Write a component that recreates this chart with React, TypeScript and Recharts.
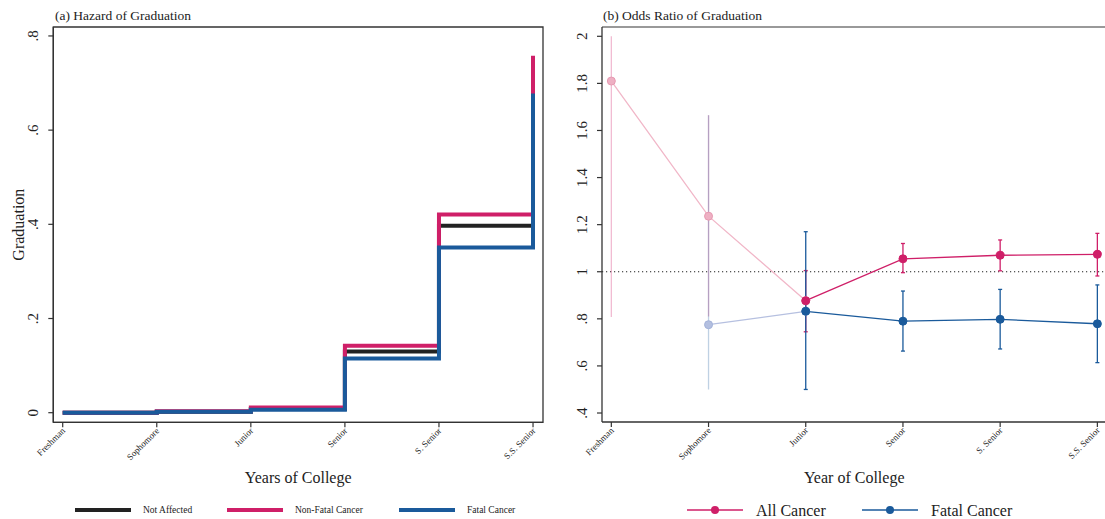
import React from 'react';
import {
  ComposedChart,
  Line,
  XAxis,
  YAxis,
  ErrorBar,
  ReferenceLine,
  ReferenceArea,
} from 'recharts';

// ---------- data ----------
const years = ['Freshman', 'Sophomore', 'Junior', 'Senior', 'S. Senior', 'S.S. Senior'];

// (a) hazard of graduation
const hazardNotAffected = [0, 0.002, 0.008, 0.13, 0.397, 0.72];
const hazardNonFatal = [0, 0.003, 0.011, 0.142, 0.421, 0.758];
const hazardFatal = [0, 0.002, 0.006, 0.115, 0.351, 0.678];
const hazardTicks = [0, 0.2, 0.4, 0.6, 0.8];

// (b) odds ratio of graduation
const allCancerOR = [1.81, 1.236, 0.877, 1.055, 1.07, 1.074];
const allCancerLo = [0.808, 0.81, 0.745, 0.996, 1.004, 0.982];
const allCancerHi = [2.0, 1.665, 1.005, 1.12, 1.135, 1.163];
const fatalOR = [null, 0.775, 0.832, 0.79, 0.798, 0.779];
const fatalLo = [null, 0.5, 0.5, 0.663, 0.672, 0.614];
const fatalHi = [null, 1.665, 1.17, 0.918, 0.925, 0.944];
const oddsTicks = [0.4, 0.6, 0.8, 1, 1.2, 1.4, 1.6, 1.8, 2];
const firstSolidIndex = 2; // estimates before Junior are drawn faded

// ---------- styles ----------
const SERIF = '"Liberation Serif", "Times New Roman", Times, serif';
const PINK = '#cf1f68';
const BLUE = '#1a5a9b';
const BLACK = '#222222';
const TXT = '#222222';
const AXIS = '#333333';

const hazardSeries = [
  { key: 'na', name: 'Not Affected', color: BLACK, values: hazardNotAffected, width: 4 },
  { key: 'nf', name: 'Non-Fatal Cancer', color: PINK, values: hazardNonFatal, width: 4 },
  { key: 'f', name: 'Fatal Cancer', color: BLUE, values: hazardFatal, width: 4 },
];

const hazardData = years.map((_, i) => {
  const row: any = { x: i };
  hazardSeries.forEach((s) => (row[s.key] = s.values[i]));
  return row;
});

function buildOdds(or: (number | null)[], lo: (number | null)[], hi: (number | null)[], faded: boolean) {
  const rows: any[] = [];
  or.forEach((v, i) => {
    if (v == null) return;
    if (faded && i > firstSolidIndex) return;
    if (!faded && i < firstSolidIndex) return;
    rows.push({
      x: i,
      y: v,
      lo: lo[i],
      hi: hi[i],
      showCI: faded ? i < firstSolidIndex : true,
    });
  });
  return rows;
}

const allFaded = buildOdds(allCancerOR, allCancerLo, allCancerHi, true);
const allSolid = buildOdds(allCancerOR, allCancerLo, allCancerHi, false);
const fatalFaded = buildOdds(fatalOR, fatalLo, fatalHi, true);
const fatalSolid = buildOdds(fatalOR, fatalLo, fatalHi, false);

const ciKey = (d: any) => (d.showCI ? [d.y - d.lo, d.hi - d.y] : null);

const fmtY = (v: number) => {
  if (v === 0) return '0';
  const s = String(Math.round(v * 100) / 100);
  return s.startsWith('0.') ? s.slice(1) : s;
};

const XTick = (props: any) => {
  const { x, y, payload } = props;
  return (
    <text
      transform={`translate(${x + 3},${y + 2}) rotate(-45)`}
      textAnchor="end"
      fontSize={9}
      fontFamily={SERIF}
      fill={TXT}
    >
      {years[payload.value]}
    </text>
  );
};

const YTick = (props: any) => {
  const { x, y, payload } = props;
  return (
    <text
      transform={`translate(${x - 8.5},${y}) rotate(-90)`}
      textAnchor="middle"
      fontSize={15}
      fontFamily={SERIF}
      fill={TXT}
    >
      {fmtY(payload.value)}
    </text>
  );
};

const XTitle = (props: any) => {
  const vb = props.viewBox || {};
  return (
    <text
      x={vb.x + vb.width / 2}
      y={vb.y + 61}
      textAnchor="middle"
      fontSize={16}
      fontFamily={SERIF}
      fill={TXT}
    >
      {props.text}
    </text>
  );
};

const YTitle = (props: any) => {
  const vb = props.viewBox || {};
  return (
    <text
      transform={`translate(${vb.x + vb.width - 29},${vb.y + vb.height / 2}) rotate(-90)`}
      textAnchor="middle"
      fontSize={16}
      fontFamily={SERIF}
      fill={TXT}
    >
      {props.text}
    </text>
  );
};

const fadedDot = (fill: string, stroke: string) => ({ r: 4, fill, stroke, strokeWidth: 1 });
const solidDot = (c: string) => ({ r: 4, fill: c, stroke: c, strokeWidth: 1 });

const hX: [number, number] = [-0.1, 5.106];
const hY: [number, number] = [-0.0204, 0.819];
const oX: [number, number] = [-0.096, 5.093];
const oY: [number, number] = [0.3618, 2.0395];

export default function App() {
  return (
    <div
      style={{
        position: 'absolute',
        left: 0,
        top: 0,
        width: 1105,
        height: 519,
        overflow: 'hidden',
        background: '#fff',
      }}
    >
      {/* Panel (a) */}
      <div style={{ position: 'absolute', left: 0, top: 0 }}>
        <ComposedChart
          width={560}
          height={519}
          data={hazardData}
          margin={{ top: 27, right: 17, bottom: 0, left: 0 }}
        >
          <XAxis
            dataKey="x"
            type="number"
            domain={hX}
            allowDataOverflow
            ticks={[0, 1, 2, 3, 4, 5]}
            height={96.7}
            tickSize={5}
            tickLine={{ stroke: AXIS, strokeWidth: 1.2 }}
            axisLine={{ stroke: AXIS, strokeWidth: 1.3 }}
            tick={<XTick />}
            interval={0}
            label={<XTitle text="Years of College" />}
          />
          <YAxis
            type="number"
            domain={hY}
            allowDataOverflow
            ticks={hazardTicks}
            width={53.3}
            tickSize={5}
            tickLine={{ stroke: AXIS, strokeWidth: 1.2 }}
            axisLine={{ stroke: AXIS, strokeWidth: 1.3 }}
            tick={<YTick />}
            interval={0}
            label={<YTitle text="Graduation" />}
          />
          <ReferenceArea
            x1={hX[0]}
            x2={hX[1]}
            y1={hY[0]}
            y2={hY[1]}
            fill="none"
            fillOpacity={0}
            stroke={AXIS}
            strokeWidth={1.3}
          />
          {hazardSeries.map((s) => (
            <Line
              key={s.key}
              dataKey={s.key}
              name={s.name}
              type="stepAfter"
              stroke={s.color}
              strokeWidth={s.width}
              strokeLinejoin="miter"
              strokeLinecap="butt"
              dot={false}
              activeDot={false}
              isAnimationActive={false}
            />
          ))}
        </ComposedChart>
      </div>

      {/* Panel (b) */}
      <div style={{ position: 'absolute', left: 560, top: 0 }}>
        <ComposedChart
          width={550}
          height={519}
          margin={{ top: 27, right: 3.6, bottom: 0, left: 0 }}
        >
          <XAxis
            dataKey="x"
            type="number"
            domain={oX}
            allowDataOverflow
            ticks={[0, 1, 2, 3, 4, 5]}
            height={97}
            tickSize={5}
            tickLine={{ stroke: AXIS, strokeWidth: 1.2 }}
            axisLine={{ stroke: AXIS, strokeWidth: 1.3 }}
            tick={<XTick />}
            interval={0}
            label={<XTitle text="Year of College" />}
          />
          <YAxis
            type="number"
            domain={oY}
            allowDataOverflow
            ticks={oddsTicks}
            width={42}
            tickSize={5}
            tickLine={{ stroke: AXIS, strokeWidth: 1.2 }}
            axisLine={{ stroke: AXIS, strokeWidth: 1.3 }}
            tick={<YTick />}
            interval={0}
          />
          <ReferenceLine y={oY[1]} stroke="#777" strokeWidth={1.3} />
          <ReferenceLine y={1} stroke="#222" strokeWidth={1.2} strokeDasharray="1.2 2.8" />

          <Line
            data={allFaded}
            dataKey="y"
            stroke="#f1b7c8"
            strokeWidth={1.3}
            dot={fadedDot('#eeb0c3', '#e79ab2')}
            activeDot={false}
            isAnimationActive={false}
          >
            <ErrorBar
              dataKey={ciKey as any}
              direction="y"
              width={0}
              stroke={PINK}
              strokeOpacity={0.3}
              strokeWidth={1.3}
              isAnimationActive={false}
            />
          </Line>
          <Line
            data={fatalFaded}
            dataKey="y"
            stroke="#b6c0e0"
            strokeWidth={1.3}
            dot={fadedDot('#b3bfe0', '#a3b2d9')}
            activeDot={false}
            isAnimationActive={false}
          >
            <ErrorBar
              dataKey={ciKey as any}
              direction="y"
              width={0}
              stroke={BLUE}
              strokeOpacity={0.28}
              strokeWidth={1.3}
              isAnimationActive={false}
            />
          </Line>
          <Line
            data={allSolid}
            dataKey="y"
            stroke={PINK}
            strokeWidth={1.3}
            dot={solidDot(PINK)}
            activeDot={false}
            isAnimationActive={false}
          >
            <ErrorBar
              dataKey={ciKey as any}
              direction="y"
              width={2}
              stroke={PINK}
              strokeWidth={1.3}
              isAnimationActive={false}
            />
          </Line>
          <Line
            data={fatalSolid}
            dataKey="y"
            stroke={BLUE}
            strokeWidth={1.3}
            dot={solidDot(BLUE)}
            activeDot={false}
            isAnimationActive={false}
          >
            <ErrorBar
              dataKey={ciKey as any}
              direction="y"
              width={2}
              stroke={BLUE}
              strokeWidth={1.3}
              isAnimationActive={false}
            />
          </Line>
        </ComposedChart>
      </div>

      {/* Titles and legends */}
      <svg
        width={1105}
        height={519}
        style={{ position: 'absolute', left: 0, top: 0, pointerEvents: 'none' }}
      >
        <text x={55} y={20} fontSize={13.5} fontFamily={SERIF} fill={TXT}>
          (a) Hazard of Graduation
        </text>
        <text x={603} y={20} fontSize={13.5} fontFamily={SERIF} fill={TXT}>
          (b) Odds Ratio of Graduation
        </text>

        {hazardSeries.map((s, i) => {
          const x0 = [75, 227, 399][i];
          return (
            <g key={s.key}>
              <line x1={x0} x2={x0 + 56} y1={510} y2={510} stroke={s.color} strokeWidth={4} />
              <text x={x0 + 68} y={513.3} fontSize={9.5} fontFamily={SERIF} fill={TXT}>
                {s.name}
              </text>
            </g>
          );
        })}

        {[
          { name: 'All Cancer', color: PINK, x0: 687 },
          { name: 'Fatal Cancer', color: BLUE, x0: 862 },
        ].map((s) => (
          <g key={s.name}>
            <line x1={s.x0} x2={s.x0 + 56} y1={510} y2={510} stroke={s.color} strokeWidth={1.3} />
            <circle cx={s.x0 + 28} cy={510} r={4} fill={s.color} />
            <text x={s.x0 + 69} y={515.5} fontSize={16} fontFamily={SERIF} fill={TXT}>
              {s.name}
            </text>
          </g>
        ))}
      </svg>
    </div>
  );
}
